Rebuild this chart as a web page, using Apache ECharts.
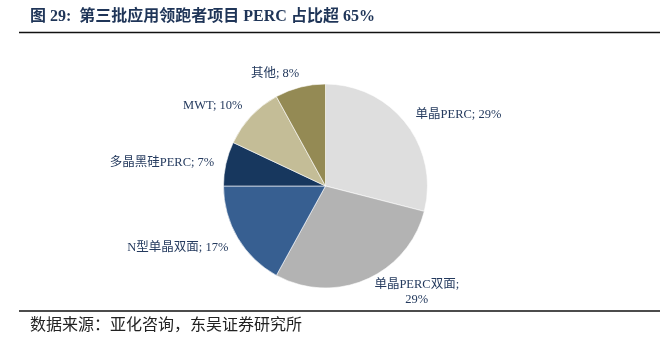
<!DOCTYPE html>
<html>
<head>
<meta charset="utf-8">
<script src="https://cdn.jsdelivr.net/npm/echarts@6/dist/echarts.min.js"></script>
<style>
html,body{margin:0;padding:0;background:#fff;}
#chart{width:660px;height:344px;}
</style>
</head>
<body>
<div id="chart"></div>
<script>
var categories = ['单晶PERC', '单晶PERC双面', 'N型单晶双面', '多晶黑硅PERC', 'MWT', '其他'];
var shares = [29, 29, 17, 7, 10, 8];
var colors = ['#DEDEDE', '#B3B3B3', '#375F91', '#17375E', '#C4BD97', '#948A54'];
var titleText = '图 29:  第三批应用领跑者项目 PERC 占比超 65%';
var sourceText = '数据来源：亚化咨询，东吴证券研究所';

var serif = '"Liberation Serif", "Times New Roman", "Noto Sans CJK SC", serif';
var labelColor = '#243a5e';

// small nudges of the automatic outside label positions
var labelNudge = [
  { dx: 0, dy: -1 },
  { dx: 46, dy: 2, align: 'center' },
  { dx: 1, dy: 4 },
  { dx: 0, dy: 2 },
  { dx: 0, dy: -2 },
  { dx: 2, dy: -2 }
];

var data = categories.map(function (c, i) {
  var item = { name: c, value: shares[i], itemStyle: { color: colors[i] } };
  if (i === 1) {
    item.label = { formatter: '{b};\n{c}%' };
  }
  return item;
});

var chart = echarts.init(document.getElementById('chart'), null, { renderer: 'canvas' });
chart.setOption({
  backgroundColor: '#ffffff',
  animation: false,
  title: {
    text: titleText,
    left: 30, top: 9, padding: 0,
    textStyle: { fontFamily: serif, fontSize: 16, fontWeight: 'bold', color: '#1f3558' }
  },
  graphic: [
    { type: 'line', shape: { x1: 19, y1: 32.5, x2: 660, y2: 32.5 }, style: { stroke: '#111', lineWidth: 1.6 } },
    { type: 'line', shape: { x1: 19, y1: 311, x2: 660, y2: 311 }, style: { stroke: '#111', lineWidth: 1.6 } },
    { type: 'text', left: 30, top: 318, style: { text: sourceText, font: '16px ' + serif, fill: '#222' } }
  ],
  series: [{
    type: 'pie',
    center: [325.5, 186],
    radius: 102,
    startAngle: 90,
    clockwise: true,
    avoidLabelOverlap: false,
    itemStyle: { borderColor: '#fff', borderWidth: 0.6 },
    label: {
      show: true,
      position: 'outside',
      formatter: '{b}; {c}%',
      fontFamily: serif,
      fontSize: 12.5,
      color: labelColor,
      lineHeight: 15,
      distanceToLabelLine: 0
    },
    labelLine: { show: false, length: 12, length2: 0 },
    labelLayout: function (p) {
      var n = labelNudge[p.dataIndex];
      var r = { dx: n.dx, dy: n.dy };
      if (n.align) r.align = n.align;
      return r;
    },
    data: data
  }]
});
</script>
</body>
</html>
